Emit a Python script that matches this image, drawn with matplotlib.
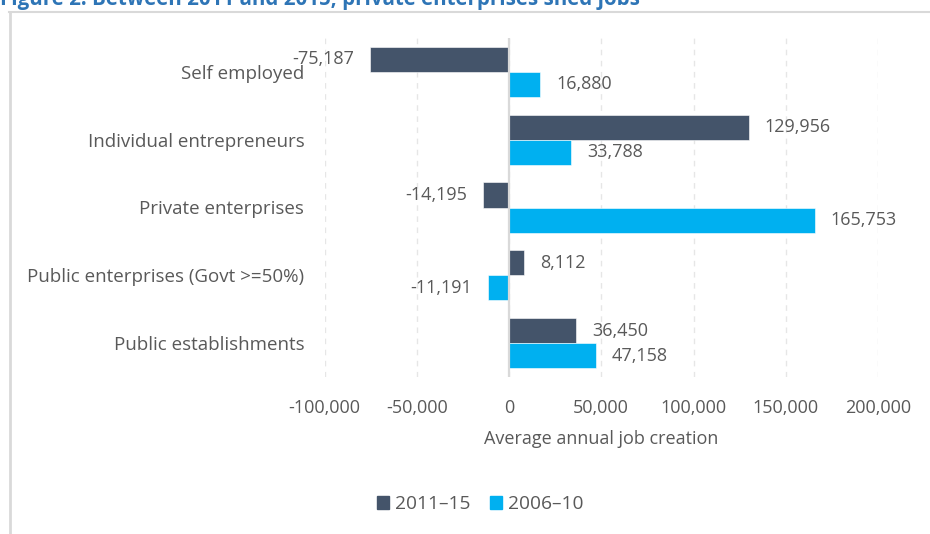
import numpy as np
import matplotlib.pyplot as plt
from matplotlib.lines import Line2D
from matplotlib.patches import Patch

plt.rcParams['font.family'] = ['Open Sans', 'DejaVu Sans']

categories = ['Self employed', 'Individual entrepreneurs', 'Private enterprises',
              'Public enterprises (Govt >=50%)', 'Public establishments']
jobs_2011_15 = [-75187, 129956, -14195, 8112, 36450]
jobs_2006_10 = [16880, 33788, 165753, -11191, 47158]
series_names = ['2011\u201315', '2006\u201310']
x_ticks = [-100000, -50000, 0, 50000, 100000, 150000, 200000]

dark_col = '#44546A'
cyan_col = '#00B0F0'
text_col = '#595959'
grid_col = '#D9D9D9'
fs = 13

fig = plt.figure(figsize=(9.3, 5.34), dpi=100)
W, H = 930, 534
ax = fig.add_axes([324.5 / W, 1 - 377 / H, (878 - 324.5) / W, (377 - 38) / H])

y = np.arange(len(categories))
bar_h = 0.37
b1 = ax.barh(y - bar_h / 2, jobs_2011_15, height=bar_h, color=dark_col, edgecolor='white', linewidth=0.4)
b2 = ax.barh(y + bar_h / 2, jobs_2006_10, height=bar_h, color=cyan_col, edgecolor='white', linewidth=0.4)

# value labels just outside the bar ends
for bars, vals in [(b1, jobs_2011_15), (b2, jobs_2006_10)]:
    for rect, v in zip(bars, vals):
        yc = rect.get_y() + rect.get_height() / 2
        off = 11.5 if v >= 0 else -11.5
        ax.annotate(f'{v:,}', (v, yc), xytext=(off, 0), textcoords='offset points',
                    ha='left' if v >= 0 else 'right', va='center',
                    fontsize=fs, color=text_col)

ax.set_xlim(-100000, 200000)
ax.set_ylim(len(categories) - 0.5, -0.5)
ax.set_xticks(x_ticks)
ax.set_xticklabels([f'{t:,}' for t in x_ticks])
ax.set_yticks(y)
ax.set_yticklabels(categories)
ax.tick_params(axis='both', length=0, labelsize=fs, labelcolor=text_col)
ax.tick_params(axis='x', pad=15.5)
ax.tick_params(axis='y', pad=14.5, labelsize=13.5)
for s in ax.spines.values():
    s.set_visible(False)
ax.grid(axis='x', color='#E6E6E6', linestyle=(0, (4, 4)), linewidth=1)
ax.set_axisbelow(True)
ax.axvline(0, color=grid_col, linewidth=1.6, zorder=1)
ax.set_xlabel('Average annual job creation', fontsize=fs, color=text_col, labelpad=10)

handles = [Patch(color=dark_col), Patch(color=cyan_col)]
fig.legend(handles, series_names, loc='center', bbox_to_anchor=(480 / W, 1 - 504 / H),
           ncol=2, frameon=False, fontsize=13.8, labelcolor=text_col,
           handlelength=0.65, handleheight=0.65, handletextpad=0.3, columnspacing=1.0)

# outer frame lines and clipped heading
fig.add_artist(Line2D([10 / W, 10 / W], [0, 1 - 12 / H], transform=fig.transFigure, color=grid_col, linewidth=2))
fig.add_artist(Line2D([9 / W, 1], [1 - 12 / H, 1 - 12 / H], transform=fig.transFigure, color=grid_col, linewidth=1.5))
fig.text(0, 1 - 5 / H, 'Figure 2: Between 2011 and 2015, private enterprises shed jobs',
         fontsize=14.8, fontweight='bold', color='#2E75B6', ha='left', va='baseline')

fig.savefig('out.png', dpi=100)
